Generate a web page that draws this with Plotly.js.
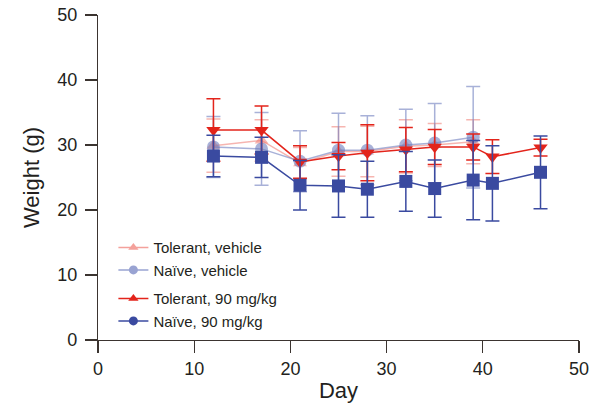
<!DOCTYPE html>
<html><head><meta charset="utf-8">
<script src="https://cdn.plot.ly/plotly-3.0.1.min.js"></script>
<style>html,body{margin:0;padding:0;background:#fff}#c{width:608px;height:406px}</style>
</head><body><div id="c"></div>
<script>
var daysVeh = [12,17,21,25,28,32,35,39];
var tolVeh = [29.9,30.7,27.2,29.0,29.0,29.8,30.0,30.5];
var tolVehSd = [4.1,3.2,2.4,3.8,3.9,4.1,3.3,3.4];
var naiVeh = [29.7,29.4,27.5,29.2,29.2,30.0,30.3,31.2];
var naiVehSd = [4.7,5.6,4.7,5.7,5.3,5.5,6.1,7.8];

var days90 = [12,17,21,25,28,32,35,39,41,46];
var tol90 = [32.3,32.3,27.4,28.3,28.8,29.3,29.7,29.7,28.2,29.6];
var tol90Sd = [4.8,3.7,2.5,2.1,4.3,3.4,2.7,2.0,2.6,1.3];
var nai90 = [28.3,28.1,23.8,23.7,23.2,24.4,23.3,24.6,24.1,25.8];
var nai90Sd = [3.2,3.1,3.8,4.8,4.3,4.6,4.4,6.1,5.8,5.6];

var seriesNames = ['Tolerant, vehicle','Naïve, vehicle','Tolerant, 90 mg/kg','Naïve, 90 mg/kg'];
var xTicks = [0,10,20,30,40,50];
var yTicks = [0,10,20,30,40,50];

var cLR = 'rgba(239,120,112,0.55)';
var cLB = 'rgba(110,125,190,0.6)';
var cR = '#e3241b';
var cB = '#3a4aa0';

function tr(x,y,sd,col,sym,size){
  return {x:x,y:y,type:'scatter',mode:'lines+markers',showlegend:false,
    line:{color:col,width:1.5},
    marker:{color:col,symbol:sym,size:size},
    error_y:{type:'data',array:sd,visible:true,color:col,thickness:1.5,width:7}};
}
function lg(name,col,sym,grp){
  return {x:[null],y:[null],type:'scatter',mode:'lines+markers',name:name,legendgroup:grp,
    line:{color:col,width:1.5},marker:{color:col,symbol:sym,size:9}};
}
var data = [
  tr(daysVeh,tolVeh,tolVehSd,cLR,'triangle-up',12),
  tr(daysVeh,naiVeh,naiVehSd,cLB,'circle',13),
  tr(days90,tol90,tol90Sd,cR,'triangle-down',12.5),
  tr(days90,nai90,nai90Sd,cB,'square',13),
  lg(seriesNames[0],'#f4a19b','triangle-up','a'),
  lg(seriesNames[1],'#99a3d2','circle','a'),
  lg(seriesNames[2],cR,'triangle-up','b'),
  lg(seriesNames[3],cB,'circle','b')
];
var axCol = '#3b3430';
var layout = {
  width:608,height:406,
  margin:{l:98,r:29,t:15,b:66},
  paper_bgcolor:'#fff',plot_bgcolor:'#fff',
  font:{family:'Arial, "Liberation Sans", sans-serif',color:'#231f20'},
  xaxis:{range:[0,50],tickvals:xTicks,ticktext:xTicks.map(String),ticks:'outside',ticklen:12,tickwidth:1.2,tickcolor:axCol,
    showline:true,linecolor:axCol,linewidth:1.2,showgrid:false,zeroline:false,
    tickfont:{size:18},title:{text:'Day',font:{size:22},standoff:4}},
  yaxis:{range:[0,50],tickvals:yTicks,ticktext:yTicks.map(String),ticks:'outside',ticklen:12,tickwidth:1.2,tickcolor:axCol,
    showline:true,linecolor:axCol,linewidth:1.2,showgrid:false,zeroline:false,ticklabelstandoff:4,
    tickfont:{size:18},title:{text:'Weight (g)',font:{size:22},standoff:11}},
  legend:{x:0.032,y:0.335,xanchor:'left',yanchor:'top',traceorder:'grouped',tracegroupgap:6,
    font:{size:15},bgcolor:'rgba(0,0,0,0)',borderwidth:0}
};
Plotly.newPlot('c',data,layout,{displayModeBar:false,staticPlot:true});
</script></body></html>
